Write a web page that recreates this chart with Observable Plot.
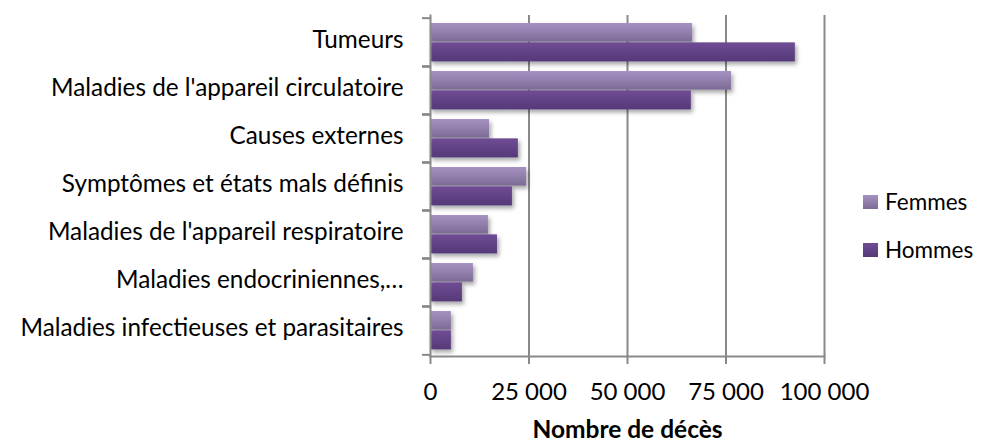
<!DOCTYPE html>
<html><head><meta charset="utf-8">
<script src="https://cdn.jsdelivr.net/npm/d3@7"></script>
<script src="https://cdn.jsdelivr.net/npm/@observablehq/plot@0.6"></script>
<style>
body{margin:0;background:#fff;}
#wrap{position:relative;width:982px;height:443px;font-family:Lato,"DejaVu Sans",sans-serif;}
.leg{position:absolute;left:863px;font-size:22.5px;color:#000;display:flex;align-items:center;line-height:1;}
.sw{width:15px;height:14px;margin-right:7px;}
</style></head>
<body><div id="wrap"></div>
<script>
const causes = ["Tumeurs","Maladies de l'appareil circulatoire","Causes externes","Symptômes et états mals définis","Maladies de l'appareil respiratoire","Maladies endocriniennes,…","Maladies infectieuses et parasitaires"];
const femmes = [66500, 76400, 15000, 24400, 14700, 10900, 5300];
const hommes = [92600, 66200, 22300, 20800, 17000, 8100, 5300];
const series = ["Femmes","Hommes"];
const xTicks = [0, 25000, 50000, 75000, 100000];
const xLabel = "Nombre de décès";

const dataF = causes.map((c,i)=>({cause:c, value:femmes[i]}));
const dataH = causes.map((c,i)=>({cause:c, value:hommes[i]}));
const gray = "#898989";
const fmt = d => d3.format(",")(d).replace(/,/g, " ");
const half = 24.35;

const svg = Plot.plot({
  width: 982, height: 443,
  marginTop: 15, marginBottom: 87, marginLeft: 430, marginRight: 158,
  style: {fontFamily: "Lato, 'DejaVu Sans', sans-serif", fontSize: "24px", color: "#000", background: "#fff", overflow: "visible"},
  x: {domain: [0, 100000], ticks: xTicks},
  y: {domain: causes, padding: 0},
  marks: [
    Plot.ruleX(xTicks.slice(1), {stroke: gray, strokeWidth: 2, strokeOpacity: 1}),
    Plot.barX(dataF, {y: "cause", x: "value", fill: "url(#gF)", insetTop: 5, insetBottom: half}),
    Plot.barX(dataH, {y: "cause", x: "value", fill: "url(#gH)", insetTop: half, insetBottom: 4.6}),
    Plot.axisY({tickSize: 0, tickPadding: 27, dy: -2, label: null, fontSize: 24.3}),
    Plot.axisY({tickSize: 8, dy: -half, text: null, label: null, stroke: gray, strokeWidth: 2}),
    Plot.axisY({tickSize: 8, dy: half, text: null, label: null, stroke: gray, strokeWidth: 2}),
    Plot.axisX({ticks: xTicks, tickFormat: fmt, tickSize: 8, tickPadding: 18, fontSize: 24, label: null, stroke: gray, strokeWidth: 2}),
    Plot.frame({anchor: "left", stroke: gray, strokeWidth: 2}),
    Plot.frame({anchor: "bottom", stroke: gray, strokeWidth: 2}),
    Plot.text([xLabel], {frameAnchor: "bottom", dy: 81, fontWeight: "bold", fontSize: 24.5})
  ]
});

const defs = d3.select(svg).insert("defs", ":first-child");
function grad(id, c1, c2){
  const g = defs.append("linearGradient").attr("id", id).attr("x1",0).attr("y1",0).attr("x2",0).attr("y2",1);
  g.append("stop").attr("offset","0%").attr("stop-color",c1);
  g.append("stop").attr("offset","100%").attr("stop-color",c2);
}
grad("gF", "#a692c2", "#7c6b95");
grad("gH", "#6f4c95", "#553977");
const f = defs.append("filter").attr("id","sh").attr("x","-10%").attr("y","-20%").attr("width","130%").attr("height","160%");
f.append("feDropShadow").attr("dx",2).attr("dy",3).attr("stdDeviation",2).attr("flood-color","#000").attr("flood-opacity",0.35);
d3.select(svg).selectAll("g[aria-label='bar']").attr("filter","url(#sh)");

const wrap = document.getElementById("wrap");
wrap.appendChild(svg);
const tops = [191, 239];
const bg = ["linear-gradient(#a692c2,#7c6b95)","linear-gradient(#6f4c95,#553977)"];
series.forEach((s,i)=>{
  const d = document.createElement("div");
  d.className = "leg"; d.style.top = tops[i] + "px";
  const sw = document.createElement("div"); sw.className = "sw"; sw.style.background = bg[i];
  d.appendChild(sw); d.appendChild(document.createTextNode(s));
  wrap.appendChild(d);
});
</script></body></html>
